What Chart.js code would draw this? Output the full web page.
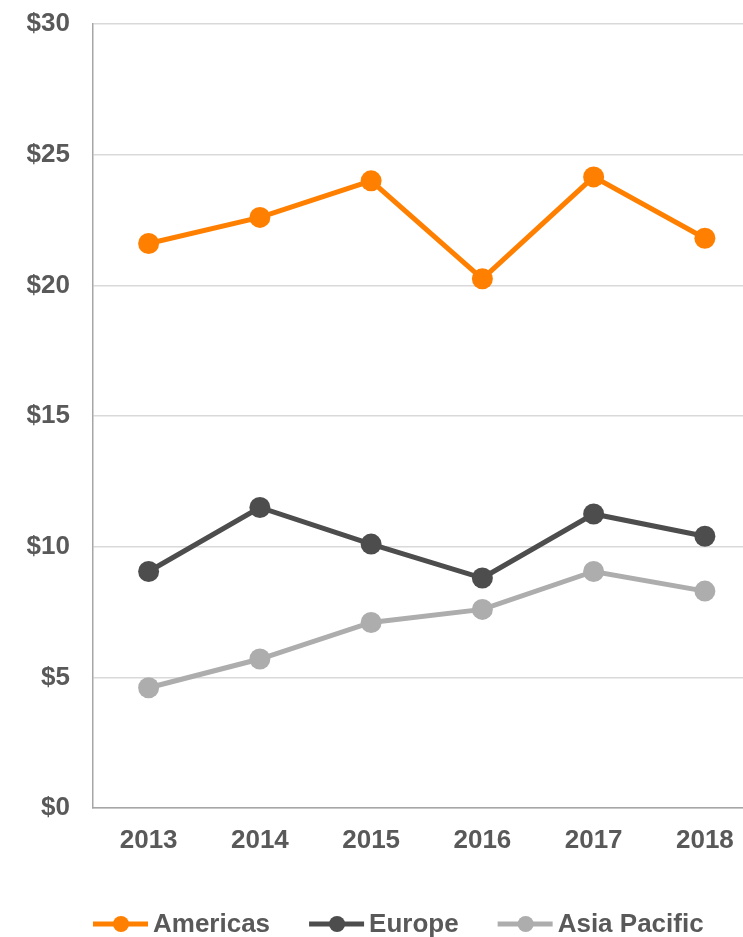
<!DOCTYPE html>
<html>
<head>
<meta charset="utf-8">
<script src="https://cdn.jsdelivr.net/npm/chart.js@4/dist/chart.umd.min.js"></script>
<style>
  html, body { margin: 0; padding: 0; background: #fff; overflow: hidden; }
  #wrap { width: 771px; height: 937px; }
</style>
</head>
<body>
<div id="wrap"><canvas id="lineChart" width="771" height="937"></canvas></div>
<script>
// datos
const years = ['2013', '2014', '2015', '2016', '2017', '2018'];
const americas = [21.6, 22.6, 24.0, 20.25, 24.15, 21.8];
const europe = [9.05, 11.5, 10.1, 8.8, 11.25, 10.4];
const asiaPacific = [4.6, 5.7, 7.1, 7.6, 9.05, 8.3];
const yTicks = [0, 5, 10, 15, 20, 25, 30];

const colors = {
    americas: '#FF8000',
    europe: '#4D4D4D',
    asia: '#ADADAD',
    text: '#595959',
    axis: '#A6A6A6',
    grid: '#D9D9D9'
};
const fontFamily = '"Liberation Sans", Arial, sans-serif';

function makeSet(label, data, color) {
    return {
        label: label,
        data: data,
        borderColor: color,
        backgroundColor: color,
        borderWidth: 5,
        pointRadius: 10.5,
        pointBorderWidth: 0,
        pointBackgroundColor: color,
        tension: 0
    };
}

// leyenda propia: línea con punto + texto
const bottomLegend = {
    id: 'bottomLegend',
    afterDraw(chart) {
        const ctx = chart.ctx;
        const y = 924;
        let x = 93;
        ctx.save();
        ctx.font = 'bold 26px ' + fontFamily;
        ctx.textBaseline = 'middle';
        chart.data.datasets.forEach(ds => {
            ctx.strokeStyle = ds.borderColor;
            ctx.lineWidth = 5;
            ctx.beginPath();
            ctx.moveTo(x, y);
            ctx.lineTo(x + 55, y);
            ctx.stroke();
            ctx.fillStyle = ds.borderColor;
            ctx.beginPath();
            ctx.arc(x + 28, y, 8, 0, Math.PI * 2);
            ctx.fill();
            ctx.fillStyle = colors.text;
            ctx.fillText(ds.label, x + 60, y + 1);
            x += 60 + ctx.measureText(ds.label).width + 39;
        });
        ctx.restore();
    }
};

const ctx = document.getElementById('lineChart').getContext('2d');
new Chart(ctx, {
    type: 'line',
    data: {
        labels: years,
        datasets: [
            makeSet('Americas', americas, colors.americas),
            makeSet('Europe', europe, colors.europe),
            makeSet('Asia Pacific', asiaPacific, colors.asia)
        ]
    },
    options: {
        responsive: false,
        animation: false,
        layout: { padding: { top: 24, right: 0, bottom: 69, left: 0 } },
        plugins: {
            legend: { display: false },
            tooltip: { enabled: false }
        },
        scales: {
            x: {
                offset: true,
                afterFit(scale) {
                    scale.height = 60;
                    scale.paddingLeft = 0;
                    scale.paddingRight = 0;
                },
                grid: { display: false, drawTicks: false },
                border: { display: true, color: colors.axis, width: 1.5 },
                ticks: {
                    color: colors.text,
                    padding: 17,
                    font: { family: fontFamily, size: 26, weight: 'bold' }
                }
            },
            y: {
                min: 0,
                max: 30,
                afterFit(scale) {
                    scale.width = 93;
                    scale.paddingTop = 0;
                    scale.paddingBottom = 0;
                },
                afterBuildTicks(scale) { scale.ticks = yTicks.map(v => ({ value: v })); },
                grid: { color: colors.grid, lineWidth: 1.5, drawTicks: false },
                border: { display: true, color: colors.axis, width: 1.5 },
                ticks: {
                    color: colors.text,
                    padding: 23,
                    font: { family: fontFamily, size: 26, weight: 'bold' },
                    callback: v => '$' + v
                }
            }
        }
    },
    plugins: [bottomLegend]
});
</script>
</body>
</html>
